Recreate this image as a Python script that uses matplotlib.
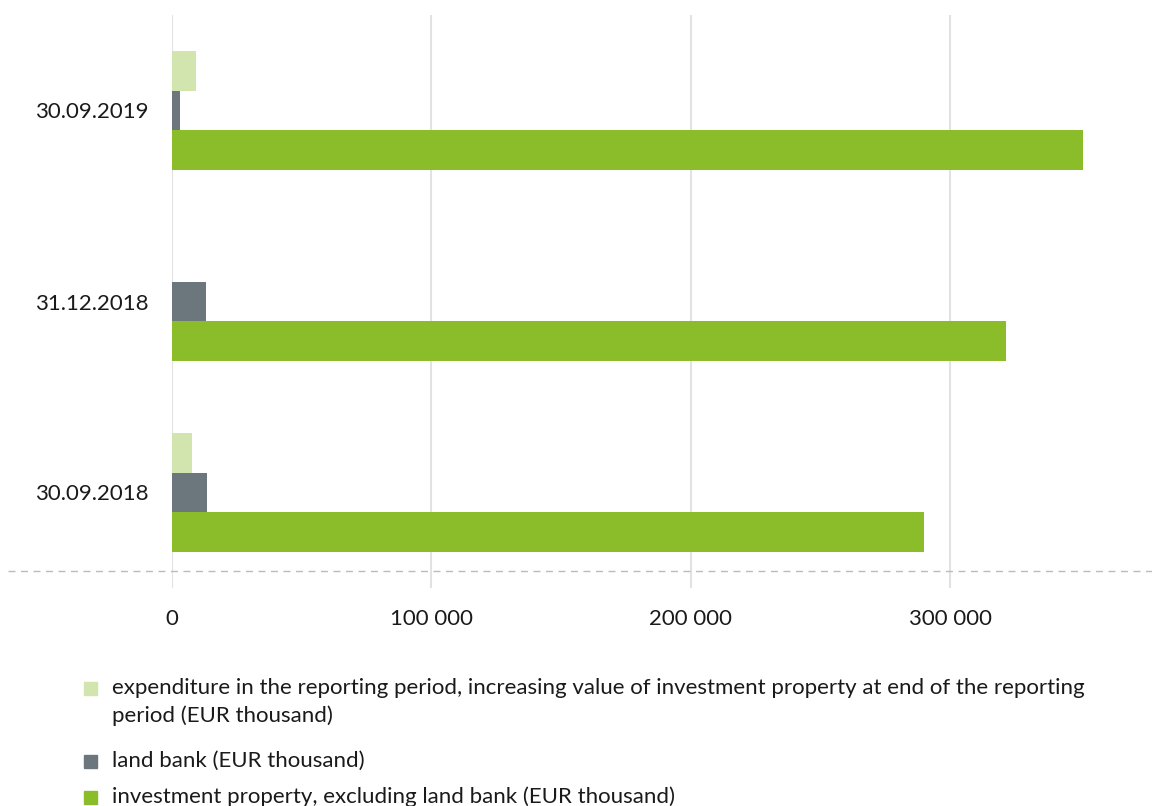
import matplotlib
matplotlib.use("Agg")
import matplotlib.pyplot as plt
from matplotlib.lines import Line2D
from matplotlib.patches import Rectangle
import numpy as np

categories = ["30.09.2018", "31.12.2018", "30.09.2019"]
expenditure = [7700, 0, 9100]
land_bank = [13400, 13000, 3200]
investment_property = [289800, 321300, 351100]
xticks = [0, 100000, 200000, 300000]
xtick_labels = ["0", "100 000", "200 000", "300 000"]
legend_labels = [
    "expenditure in the reporting period, increasing value of investment property at end of the reporting\nperiod (EUR thousand)",
    "land bank (EUR thousand)",
    "investment property, excluding land bank (EUR thousand)",
]
colors = ["#D3E5AE", "#6B777C", "#8ABD29"]

plt.rcParams['font.family'] = ['Lato', 'DejaVu Sans']
FS = 16

W, H = 1152, 806
fig = plt.figure(figsize=(W / 100, H / 100), dpi=100)
ax = fig.add_axes([172 / W, 1 - 588 / H, (1150 - 172) / W, (588 - 15) / H])

y = np.arange(len(categories))
h = 0.207
ax.barh(y + h, expenditure, height=h, color=colors[0])
ax.barh(y, land_bank, height=h, color=colors[1])
ax.barh(y - h, investment_property, height=h, color=colors[2])

ax.set_ylim(-0.5, 2.5)
ax.set_xlim(0, 377000)
ax.set_xticks(xticks)
ax.set_xticklabels(xtick_labels)
ax.set_yticks(y)
ax.set_yticklabels(categories)
ax.tick_params(axis='both', length=0, labelsize=FS, colors='#1a1a1a')
ax.tick_params(axis='y', pad=17)
ax.tick_params(axis='x', pad=15)
for s in ax.spines.values():
    s.set_visible(False)
ax.grid(axis='x', color='#E2E2E2', linewidth=1.5)
ax.set_axisbelow(True)

# dashed baseline across the figure
fig.add_artist(Line2D([8 / W, 1], [1 - 571 / H, 1 - 571 / H], color='#BBBBBB',
                      linewidth=1, linestyle=(0, (5, 4))))

# manual legend
rows = [688, 761, 797]
line_gap = 28
for lab, col, yy in zip(legend_labels, colors, rows):
    fig.add_artist(Rectangle((84 / W, 1 - (yy + 6.5) / H), 13 / W, 13 / H,
                             transform=fig.transFigure, color=col))
    for i, part in enumerate(lab.split("\n")):
        fig.text(112 / W, 1 - (yy + i * line_gap) / H, part, fontsize=FS,
                 color='#1a1a1a', va='center', ha='left')

fig.savefig("out.png", dpi=100)
